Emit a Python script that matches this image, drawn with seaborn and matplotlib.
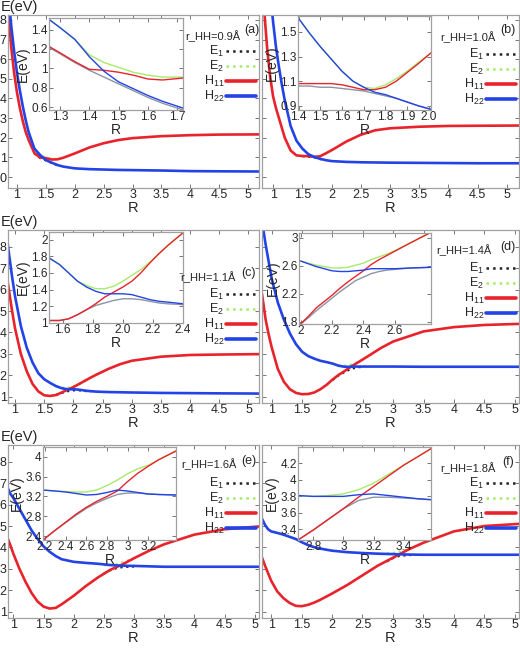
import matplotlib
matplotlib.use('Agg')
import matplotlib.pyplot as plt
import seaborn as sns
from matplotlib.lines import Line2D

# ---- panel (a) r_HH = 0.9
a_R = [0.82, 0.86, 0.9, 0.95, 1.0, 1.05, 1.1, 1.15, 1.2, 1.3, 1.4, 1.5, 1.6, 1.7, 1.8, 2.0, 2.25, 2.5, 2.75, 3.0, 3.5, 4.0, 4.5, 5.2]
a_H11 = [9.8, 8.0, 6.6, 5.3, 4.3, 3.5, 2.85, 2.3, 1.9, 1.22, 0.99, 0.96, 0.89, 0.9, 0.98, 1.2, 1.5, 1.72, 1.88, 1.98, 2.08, 2.13, 2.16, 2.17]
a_H22 = [10.5, 9.0, 7.7, 6.4, 5.3, 4.4, 3.6, 2.9, 2.3, 1.45, 1.12, 0.86, 0.73, 0.61, 0.53, 0.44, 0.4, 0.38, 0.36, 0.35, 0.33, 0.3, 0.29, 0.28]
a_mR = [1.3, 1.4, 1.45, 1.5, 1.6, 1.7]
a_mE1 = [1.2, 0.97, 0.92, 0.85, 0.72, 0.6]
a_mE2 = [1.45, 1.13, 1.05, 0.99, 0.92, 0.91]
a_iR = [1.26, 1.3, 1.35, 1.4, 1.45, 1.5, 1.55, 1.6, 1.65, 1.72]
a_iH11 = [1.23, 1.16, 1.07, 0.99, 0.98, 0.96, 0.93, 0.89, 0.88, 0.90]
a_iH22 = [1.51, 1.42, 1.30, 1.12, 0.97, 0.86, 0.79, 0.72, 0.66, 0.59]
a_iE1 = [1.22, 1.15, 1.06, 0.98, 0.91, 0.84, 0.77, 0.70, 0.64, 0.57]
a_iE2 = [1.51, 1.42, 1.30, 1.14, 1.06, 1.01, 0.96, 0.93, 0.91, 0.91]

# ---- panel (b) r_HH = 1.0
b_R = [0.82, 0.86, 0.9, 0.95, 1.0, 1.05, 1.1, 1.15, 1.2, 1.3, 1.4, 1.5, 1.6, 1.7, 1.8, 1.9, 2.0, 2.25, 2.5, 2.75, 3.0, 3.5, 4.0, 4.5, 5.21]
b_H11 = [9.8, 8.0, 6.5, 5.1, 4.1, 3.5, 3.0, 2.5, 2.0, 1.35, 1.1, 1.07, 1.06, 1.03, 1.05, 1.2, 1.36, 1.8, 2.15, 2.38, 2.48, 2.56, 2.6, 2.61, 2.62]
b_H22 = [14.0, 12.5, 11.0, 9.3, 7.9, 6.6, 5.6, 4.7, 3.9, 2.6, 1.85, 1.45, 1.17, 1.02, 0.93, 0.86, 0.81, 0.77, 0.75, 0.74, 0.73, 0.72, 0.71, 0.7, 0.7]
b_mR = [1.5, 1.6, 1.7, 1.8, 1.9]
b_mE1 = [1.06, 1.04, 1.0, 0.92, 0.85]
b_mE2 = [1.45, 1.17, 1.05, 1.07, 1.2]
b_iR = [1.4, 1.45, 1.5, 1.55, 1.6, 1.65, 1.7, 1.75, 1.8, 1.85, 1.9, 1.95, 2.01]
b_iH11 = [1.08, 1.08, 1.08, 1.08, 1.07, 1.05, 1.03, 1.03, 1.05, 1.1, 1.17, 1.24, 1.33]
b_iH22 = [1.61, 1.49, 1.38, 1.28, 1.18, 1.1, 1.05, 1.01, 0.99, 0.96, 0.93, 0.9, 0.87]
b_iE1 = [1.06, 1.06, 1.05, 1.05, 1.04, 1.03, 1.02, 1.0, 0.98, 0.96, 0.93, 0.9, 0.87]
b_iE2 = [1.61, 1.49, 1.38, 1.28, 1.18, 1.1, 1.05, 1.04, 1.07, 1.12, 1.18, 1.25, 1.33]

# ---- panel (c) r_HH = 1.1
c_R = [0.84, 0.9, 0.95, 1.0, 1.1, 1.2, 1.3, 1.4, 1.5, 1.6, 1.7, 1.8, 1.9, 2.0, 2.1, 2.2, 2.3, 2.4, 2.6, 2.8, 3.0, 3.5, 4.0, 4.5, 5.18]
c_H11 = [7.0, 5.9, 5.0, 4.2, 3.0, 2.2, 1.6, 1.25, 1.07, 1.04, 1.08, 1.2, 1.33, 1.45, 1.6, 1.75, 1.9, 2.04, 2.3, 2.52, 2.68, 2.87, 2.95, 2.97, 2.99]
c_H22 = [8.9, 7.6, 6.6, 5.7, 4.3, 3.3, 2.6, 2.1, 1.82, 1.65, 1.5, 1.4, 1.35, 1.35, 1.33, 1.29, 1.26, 1.24, 1.22, 1.21, 1.2, 1.18, 1.17, 1.16, 1.15]
c_mR = [1.7, 1.8, 1.9, 2.0, 2.1, 2.2, 2.3]
c_mE1 = [1.08, 1.18, 1.26, 1.3, 1.3, 1.27, 1.25]
c_mE2 = [1.5, 1.42, 1.42, 1.48, 1.6, 1.75, 1.9]
c_iR = [1.51, 1.58, 1.64, 1.7, 1.76, 1.82, 1.88, 1.94, 2.0, 2.06, 2.12, 2.18, 2.24, 2.3, 2.4]
c_iH11 = [1.03, 1.03, 1.05, 1.1, 1.16, 1.23, 1.31, 1.37, 1.43, 1.5, 1.6, 1.72, 1.83, 1.93, 2.08]
c_iH22 = [1.78, 1.70, 1.6, 1.5, 1.43, 1.38, 1.35, 1.35, 1.35, 1.34, 1.31, 1.28, 1.26, 1.25, 1.23]
c_iE1 = [1.03, 1.03, 1.05, 1.1, 1.16, 1.21, 1.24, 1.27, 1.29, 1.29, 1.28, 1.26, 1.24, 1.23, 1.22]
c_iE2 = [1.78, 1.70, 1.6, 1.5, 1.45, 1.41, 1.41, 1.44, 1.5, 1.57, 1.64, 1.73, 1.83, 1.93, 2.08]

# ---- panel (d) r_HH = 1.4
d_R = [0.84, 0.9, 0.95, 1.0, 1.1, 1.2, 1.3, 1.4, 1.5, 1.6, 1.7, 1.8, 1.9, 2.0, 2.1, 2.2, 2.3, 2.4, 2.6, 2.8, 3.0, 3.5, 4.0, 4.5, 5.07]
d_H11 = [5.8, 4.6, 3.9, 3.3, 2.3, 1.7, 1.35, 1.18, 1.12, 1.13, 1.2, 1.35, 1.55, 1.8, 2.02, 2.2, 2.4, 2.57, 2.92, 3.28, 3.58, 4.05, 4.25, 4.35, 4.4]
d_H22 = [9.2, 8.1, 7.3, 6.5, 5.4, 4.6, 3.95, 3.45, 3.1, 2.9, 2.78, 2.68, 2.62, 2.55, 2.45, 2.4, 2.4, 2.41, 2.41, 2.41, 2.41, 2.4, 2.4, 2.4, 2.4]
d_mR = [2.0, 2.1, 2.2, 2.3, 2.4, 2.5]
d_mE1 = [1.78, 2.0, 2.15, 2.3, 2.37, 2.4]
d_mE2 = [2.55, 2.46, 2.45, 2.5, 2.6, 2.74]
d_iR = [2.0, 2.05, 2.1, 2.15, 2.2, 2.25, 2.3, 2.35, 2.4, 2.45, 2.5, 2.55, 2.6, 2.7, 2.83]
d_iH11 = [1.77, 1.88, 2.0, 2.09, 2.18, 2.28, 2.37, 2.45, 2.53, 2.62, 2.69, 2.75, 2.81, 2.93, 3.08]
d_iH22 = [2.67, 2.63, 2.59, 2.56, 2.53, 2.52, 2.52, 2.53, 2.54, 2.56, 2.56, 2.56, 2.56, 2.57, 2.58]
d_iE1 = [1.77, 1.86, 1.96, 2.05, 2.14, 2.23, 2.31, 2.39, 2.44, 2.49, 2.52, 2.54, 2.55, 2.57, 2.58]
d_iE2 = [2.67, 2.64, 2.61, 2.59, 2.57, 2.57, 2.58, 2.61, 2.64, 2.69, 2.73, 2.77, 2.82, 2.93, 3.08]

# ---- panel (e) r_HH = 1.6
e_R = [0.86, 0.95, 1.0, 1.1, 1.2, 1.3, 1.4, 1.5, 1.6, 1.7, 1.8, 2.0, 2.2, 2.4, 2.6, 2.8, 3.0, 3.25, 3.5, 4.0, 4.5, 5.07]
e_H11 = [4.75, 4.1, 3.7, 3.0, 2.4, 1.88, 1.48, 1.24, 1.15, 1.18, 1.35, 1.75, 2.2, 2.6, 2.95, 3.2, 3.5, 3.85, 4.15, 4.6, 4.85, 4.98]
e_H22 = [7.05, 6.5, 6.3, 5.8, 5.3, 4.8, 4.4, 4.05, 3.8, 3.6, 3.45, 3.33, 3.28, 3.24, 3.18, 3.15, 3.14, 3.12, 3.1, 3.1, 3.1, 3.1]
e_mR = [2.5, 2.6, 2.7, 2.8, 2.9, 3.0]
e_mE1 = [2.78, 2.93, 3.03, 3.08, 3.1, 3.11]
e_mE2 = [3.17, 3.18, 3.22, 3.3, 3.4, 3.52]
e_iR = [2.18, 2.3, 2.4, 2.5, 2.6, 2.7, 2.8, 2.9, 3.0, 3.1, 3.2, 3.3, 3.47]
e_iH11 = [2.32, 2.52, 2.68, 2.84, 2.98, 3.1, 3.2, 3.31, 3.5, 3.67, 3.81, 3.94, 4.12]
e_iH22 = [3.33, 3.31, 3.29, 3.26, 3.23, 3.24, 3.28, 3.33, 3.31, 3.28, 3.25, 3.24, 3.23]
e_iE1 = [2.32, 2.52, 2.67, 2.82, 2.96, 3.07, 3.16, 3.24, 3.27, 3.27, 3.25, 3.24, 3.23]
e_iE2 = [3.33, 3.31, 3.3, 3.29, 3.29, 3.33, 3.42, 3.53, 3.66, 3.76, 3.83, 3.94, 4.12]

# ---- panel (f) r_HH = 1.8
f_R = [0.84, 0.9, 0.95, 1.0, 1.1, 1.2, 1.3, 1.4, 1.5, 1.6, 1.7, 1.8, 2.0, 2.25, 2.5, 2.75, 3.0, 3.25, 3.5, 4.0, 4.5, 5.07]
f_H11 = [3.6, 3.15, 2.8, 2.45, 1.95, 1.64, 1.42, 1.28, 1.26, 1.32, 1.42, 1.55, 1.85, 2.25, 2.7, 3.15, 3.52, 3.9, 4.22, 4.75, 5.0, 5.1]
f_H22 = [5.4, 5.05, 4.85, 4.75, 4.68, 4.6, 4.5, 4.4, 4.25, 4.12, 4.02, 3.95, 3.85, 3.78, 3.74, 3.71, 3.69, 3.67, 3.66, 3.66, 3.66, 3.66]
f_mR = [2.9, 3.0, 3.1, 3.2, 3.3]
f_mE1 = [3.35, 3.5, 3.6, 3.63, 3.65]
f_mE2 = [3.72, 3.74, 3.8, 3.88, 4.0]
f_iR = [2.7, 2.8, 2.9, 3.0, 3.1, 3.2, 3.3, 3.4, 3.5, 3.58]
f_iH11 = [3.27, 3.39, 3.52, 3.65, 3.79, 3.92, 4.05, 4.18, 4.29, 4.38]
f_iH22 = [3.81, 3.8, 3.8, 3.8, 3.82, 3.83, 3.81, 3.79, 3.77, 3.76]
f_iE1 = [3.27, 3.39, 3.52, 3.65, 3.75, 3.79, 3.79, 3.78, 3.77, 3.76]
f_iE2 = [3.81, 3.8, 3.81, 3.83, 3.88, 3.96, 4.07, 4.18, 4.29, 4.38]

r_hh_labels = ['r_HH=0.9Å', 'r_HH=1.0Å', 'r_HH=1.1Å', 'r_HH=1.4Å', 'r_HH=1.6Å', 'r_HH=1.8Å']
panel_tags = ['(a)', '(b)', '(c)', '(d)', '(e)', '(f)']
main_xticks = [1, 1.5, 2, 2.5, 3, 3.5, 4, 4.5, 5]
main_xticklabels = ['1', '1.5', '2', '2.5', '3', '3.5', '4', '4.5', '5']

RED = '#e8232b'
BLUE = '#2443e6'
GREEN = '#a8ea6a'
GRAY = '#8a95a6'
FRAME = '#a0a0a0'

sns.set_style('ticks')
plt.rcParams['font.family'] = ['Liberation Sans', 'DejaVu Sans']
plt.rcParams['mathtext.fontset'] = 'custom'
plt.rcParams['mathtext.rm'] = 'Liberation Sans'
plt.rcParams['mathtext.it'] = 'Liberation Sans'

W, H = 520, 649
fig = plt.figure(figsize=(W / 100, H / 100), dpi=100)


def box(x0, y0, x1, y1):
    return [x0 / W, 1 - y1 / H, (x1 - x0) / W, (y1 - y0) / H]


def line(ax, x, y, color, lw, ls='-'):
    sns.lineplot(x=x, y=y, ax=ax, color=color, lw=lw, linestyle=ls,
                 sort=False, estimator=None)


def frame(ax, size):
    for s in ax.spines.values():
        s.set_color(FRAME)
        s.set_linewidth(0.9)
    ax.tick_params(direction='in', top=True, right=True, length=3, width=0.7,
                   color='#777777', labelsize=size, pad=1)
    ax.set_xlabel('')
    ax.set_ylabel('')


panels = [
    dict(R=a_R, H11=a_H11, H22=a_H22, mR=a_mR, mE1=a_mE1, mE2=a_mE2,
         iR=a_iR, iH11=a_iH11, iH22=a_iH22, iE1=a_iE1, iE2=a_iE2,
         main=(8, 15, 259, 188), inset=(49, 18, 183, 110), xlim=(0.844, 5.19), ylim=(-0.56, 8.25),
         yticks=[0, 1, 2, 3, 4, 5, 6, 7, 8], ixlim=(1.262, 1.72), iylim=(0.57, 1.52),
         ixt=[1.3, 1.4, 1.5, 1.6, 1.7], ixl=['1.3', '1.4', '1.5', '1.6', '1.7'],
         iyt=[0.6, 0.8, 1.0, 1.2, 1.4], iyl=['0.6', '0.8', '1', '1.2', '1.4'],
         txt=(213, 36), tag=(252, 30), leg=(256, 44)),
    dict(R=b_R, H11=b_H11, H22=b_H22, mR=b_mR, mE1=b_mE1, mE2=b_mE2,
         iR=b_iR, iH11=b_iH11, iH22=b_iH22, iE1=b_iE1, iE2=b_iE2,
         main=(262, 15, 519, 188), inset=(298, 16, 431, 110), xlim=(0.81, 5.21), ylim=(-0.56, 8.25),
         yticks=[0, 1, 2, 3, 4, 5, 6, 7, 8], ixlim=(1.397, 2.01), iylim=(0.865, 1.63),
         ixt=[1.4, 1.5, 1.6, 1.7, 1.8, 1.9, 2.0], ixl=['1.4', '1.5', '1.6', '1.7', '1.8', '1.9', '2.0'],
         iyt=[0.9, 1.1, 1.3, 1.5], iyl=['0.9', '1.1', '1.3', '1.5'],
         txt=(468, 37), tag=(508, 30), leg=(516, 47)),
    dict(R=c_R, H11=c_H11, H22=c_H22, mR=c_mR, mE1=c_mE1, mE2=c_mE2,
         iR=c_iR, iH11=c_iH11, iH22=c_iH22, iE1=c_iE1, iE2=c_iE2,
         main=(8, 230, 259, 403), inset=(49, 232, 183, 323), xlim=(0.88, 5.18), ylim=(0.71, 8.78),
         yticks=[1, 2, 3, 4, 5, 6, 7, 8], ixlim=(1.51, 2.4), iylim=(1.0, 2.09),
         ixt=[1.6, 1.8, 2.0, 2.2, 2.4], ixl=['1.6', '1.8', '2.0', '2.2', '2.4'],
         iyt=[1.0, 1.2, 1.4, 1.6, 1.8, 2.0], iyl=['1', '1.2', '1.4', '1.6', '1.8', '2'],
         txt=(208, 277), tag=(249, 273), leg=(256, 287)),
    dict(R=d_R, H11=d_H11, H22=d_H22, mR=d_mR, mE1=d_mE1, mE2=d_mE2,
         iR=d_iR, iH11=d_iH11, iH22=d_iH22, iE1=d_iE1, iE2=d_iE2,
         main=(262, 230, 519, 403), inset=(299, 233, 431, 324), xlim=(0.84, 5.07), ylim=(0.71, 8.78),
         yticks=[1, 2, 3, 4, 5, 6, 7, 8], ixlim=(1.99, 2.83), iylim=(1.77, 3.07),
         ixt=[2.0, 2.2, 2.4, 2.6], ixl=['2', '2.2', '2.4', '2.6'],
         iyt=[1.8, 2.2, 2.6, 3.0], iyl=['1.8', '2.2', '2.6', '3'],
         txt=(464, 250), tag=(508, 247), leg=(516, 261)),
    dict(R=e_R, H11=e_H11, H22=e_H22, mR=e_mR, mE1=e_mE1, mE2=e_mE2,
         iR=e_iR, iH11=e_iH11, iH22=e_iH22, iE1=e_iE1, iE2=e_iE2,
         main=(8, 445, 259, 618), inset=(43, 447, 176, 540), xlim=(0.91, 5.07), ylim=(0.71, 8.78),
         yticks=[1, 2, 3, 4, 5, 6, 7, 8], ixlim=(2.18, 3.47), iylim=(2.32, 4.2),
         ixt=[2.2, 2.4, 2.6, 2.8, 3.0, 3.2], ixl=['2.2', '2.4', '2.6', '2.8', '3', '3.2'],
         iyt=[2.4, 2.8, 3.2, 3.6, 4.0], iyl=['2.4', '2.8', '3.2', '3.6', '4'],
         txt=(209, 464), tag=(249, 461), leg=(256, 476)),
    dict(R=f_R, H11=f_H11, H22=f_H22, mR=f_mR, mE1=f_mE1, mE2=f_mE2,
         iR=f_iR, iH11=f_iH11, iH22=f_iH22, iE1=f_iE1, iE2=f_iE2,
         main=(262, 445, 519, 618), inset=(298, 447, 431, 540), xlim=(0.85, 5.07), ylim=(0.71, 8.78),
         yticks=[1, 2, 3, 4, 5, 6, 7, 8], ixlim=(2.7, 3.58), iylim=(3.27, 4.4),
         ixt=[2.8, 3.0, 3.2, 3.4], ixl=['2.8', '3', '3.2', '3.4'],
         iyt=[3.4, 3.6, 3.8, 4.0, 4.2], iyl=['3.4', '3.6', '3.8', '4', '4.2'],
         txt=(468, 468), tag=(508, 462), leg=(516, 476)),
]

for i, p in enumerate(panels):
    left_col = (i % 2 == 0)
    ax = fig.add_axes(box(*p['main']))
    line(ax, p['mR'], p['mE1'], '#222222', 1.6, ':')
    line(ax, p['mR'], p['mE2'], GREEN, 1.6, ':')
    line(ax, p['R'], p['H11'], RED, 1.9)
    line(ax, p['R'], p['H22'], BLUE, 1.9)
    ax.set_xlim(*p['xlim'])
    ax.set_ylim(*p['ylim'])
    ax.set_xticks(main_xticks)
    ax.set_xticklabels(main_xticklabels)
    ax.set_yticks(p['yticks'])
    ax.set_yticklabels([str(t) for t in p['yticks']])
    frame(ax, 9)
    if not left_col:
        ax.tick_params(labelleft=False)
    ax.set_xlabel('R', fontsize=10.5, labelpad=0)
    if left_col:
        fig.text(1 / W, 1 - (p['main'][1] - 15) / H, 'E(eV)', fontsize=10.5, ha='left', va='top')

    fig.text(p['txt'][0] / W, 1 - p['txt'][1] / H, r_hh_labels[i], fontsize=8, ha='center', va='center')
    fig.text(p['tag'][0] / W, 1 - p['tag'][1] / H, panel_tags[i], fontsize=9, ha='center', va='center')

    handles = [Line2D([], [], color='#222222', ls=':', lw=1.8),
               Line2D([], [], color=GREEN, ls=':', lw=1.8),
               Line2D([], [], color=RED, lw=2.6),
               Line2D([], [], color=BLUE, lw=2.6)]
    ax.legend(handles, ['E$_1$', 'E$_2$', 'H$_{11}$', 'H$_{22}$'], loc='upper right',
              bbox_to_anchor=(p['leg'][0] / W, 1 - p['leg'][1] / H), bbox_transform=fig.transFigure,
              frameon=False, markerfirst=False, handlelength=2.4, handletextpad=0.15,
              labelspacing=0.0, borderpad=0, borderaxespad=0, fontsize=9)

    ins = fig.add_axes(box(*p['inset']))
    ins.set_facecolor('white')
    line(ins, p['iR'], p['iE1'], GRAY, 1.0)
    line(ins, p['iR'], p['iE2'], GREEN, 1.0)
    line(ins, p['iR'], p['iH11'], RED, 1.0)
    line(ins, p['iR'], p['iH22'], BLUE, 1.0)
    ins.set_xlim(*p['ixlim'])
    ins.set_ylim(*p['iylim'])
    ins.set_xticks(p['ixt'])
    ins.set_xticklabels(p['ixl'])
    ins.set_yticks(p['iyt'])
    ins.set_yticklabels(p['iyl'])
    frame(ins, 8.5)
    ins.set_xlabel('R', fontsize=10, labelpad=0)
    ins.set_ylabel('E(eV)', fontsize=10, labelpad=1)

fig.savefig('out.png', dpi=100)
